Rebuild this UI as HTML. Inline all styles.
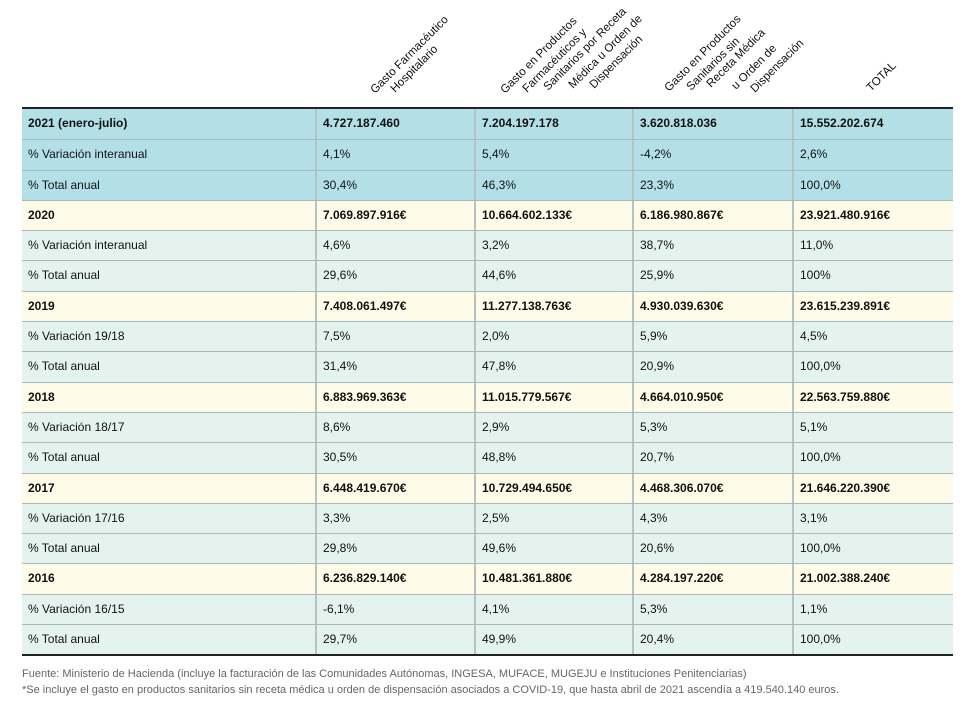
<!DOCTYPE html>
<html><head><meta charset="utf-8"><style>
body{margin:0;width:976px;height:711px;background:#fff;position:relative;overflow:hidden;font-family:"Liberation Sans",Arial,sans-serif;}
#t{position:absolute;left:22px;top:107px;width:931px;border-top:2px solid #222;border-bottom:2px solid #222;}
.r{display:flex;height:30.3px;box-sizing:border-box;border-top:1px solid #a9b9bb;font-size:12px;color:#111;}
.r:first-child{border-top:none}
.r div{box-sizing:border-box;padding-left:6px;line-height:29px;border-left:2px solid #b5c3c5;white-space:nowrap;}
.r div:first-child{border-left:none;width:293px}
.r div:nth-child(2){width:159px}
.r div:nth-child(3){width:158px}
.r div:nth-child(4){width:160px}
.r div:nth-child(5){width:161px}
.b{background:#b3e0e7}
.y{background:#fffbe9;font-weight:bold}
.g{background:#e5f3ee}
.b.h{font-weight:bold}
#f{position:absolute;left:22px;top:666px;font-size:11px;color:#666;line-height:16px;}
svg{position:absolute;left:0;top:0}
</style></head><body>
<svg width="976" height="107" font-family="Liberation Sans, Arial, sans-serif" font-size="11.6" fill="#111">
<text transform="translate(375,94) rotate(-45)">Gasto Farmacéutico</text>
<text transform="translate(395,93) rotate(-45)">Hospitalario</text>
<text transform="translate(505,94) rotate(-45)">Gasto en Productos</text>
<text transform="translate(527,93) rotate(-45)">Farmacéuticos y</text>
<text transform="translate(548,91) rotate(-45)">Sanitarios por Receta</text>
<text transform="translate(573,89) rotate(-45)">Médica u Orden de</text>
<text transform="translate(594,89) rotate(-45)">Dispensación</text>
<text transform="translate(669,92) rotate(-45)">Gasto en Productos</text>
<text transform="translate(691,91) rotate(-45)">Sanitarios sin</text>
<text transform="translate(711,88) rotate(-45)">Receta Médica</text>
<text transform="translate(736,90) rotate(-45)">u Orden de</text>
<text transform="translate(755,93) rotate(-45)">Dispensación</text>
<text transform="translate(871,92) rotate(-45)">TOTAL</text>
</svg>
<div id="t">
<div class="r b h"><div>2021 (enero-julio)</div><div>4.727.187.460</div><div>7.204.197.178</div><div>3.620.818.036</div><div>15.552.202.674</div></div>
<div class="r b"><div>% Variación interanual</div><div>4,1%</div><div>5,4%</div><div>-4,2%</div><div>2,6%</div></div>
<div class="r b"><div>% Total anual</div><div>30,4%</div><div>46,3%</div><div>23,3%</div><div>100,0%</div></div>
<div class="r y"><div>2020</div><div>7.069.897.916€</div><div>10.664.602.133€</div><div>6.186.980.867€</div><div>23.921.480.916€</div></div>
<div class="r g"><div>% Variación interanual</div><div>4,6%</div><div>3,2%</div><div>38,7%</div><div>11,0%</div></div>
<div class="r g"><div>% Total anual</div><div>29,6%</div><div>44,6%</div><div>25,9%</div><div>100%</div></div>
<div class="r y"><div>2019</div><div>7.408.061.497€</div><div>11.277.138.763€</div><div>4.930.039.630€</div><div>23.615.239.891€</div></div>
<div class="r g"><div>% Variación 19/18</div><div>7,5%</div><div>2,0%</div><div>5,9%</div><div>4,5%</div></div>
<div class="r g"><div>% Total anual</div><div>31,4%</div><div>47,8%</div><div>20,9%</div><div>100,0%</div></div>
<div class="r y"><div>2018</div><div>6.883.969.363€</div><div>11.015.779.567€</div><div>4.664.010.950€</div><div>22.563.759.880€</div></div>
<div class="r g"><div>% Variación 18/17</div><div>8,6%</div><div>2,9%</div><div>5,3%</div><div>5,1%</div></div>
<div class="r g"><div>% Total anual</div><div>30,5%</div><div>48,8%</div><div>20,7%</div><div>100,0%</div></div>
<div class="r y"><div>2017</div><div>6.448.419.670€</div><div>10.729.494.650€</div><div>4.468.306.070€</div><div>21.646.220.390€</div></div>
<div class="r g"><div>% Variación 17/16</div><div>3,3%</div><div>2,5%</div><div>4,3%</div><div>3,1%</div></div>
<div class="r g"><div>% Total anual</div><div>29,8%</div><div>49,6%</div><div>20,6%</div><div>100,0%</div></div>
<div class="r y"><div>2016</div><div>6.236.829.140€</div><div>10.481.361.880€</div><div>4.284.197.220€</div><div>21.002.388.240€</div></div>
<div class="r g"><div>% Variación 16/15</div><div>-6,1%</div><div>4,1%</div><div>5,3%</div><div>1,1%</div></div>
<div class="r g"><div>% Total anual</div><div>29,7%</div><div>49,9%</div><div>20,4%</div><div>100,0%</div></div>
</div>
<div id="f">Fuente: Ministerio de Hacienda (incluye la facturación de las Comunidades Autónomas, INGESA, MUFACE, MUGEJU e Instituciones Penitenciarias)<br>*Se incluye el gasto en productos sanitarios sin receta médica u orden de dispensación asociados a COVID-19, que hasta abril de 2021 ascendía a 419.540.140 euros.</div>
</body></html>
